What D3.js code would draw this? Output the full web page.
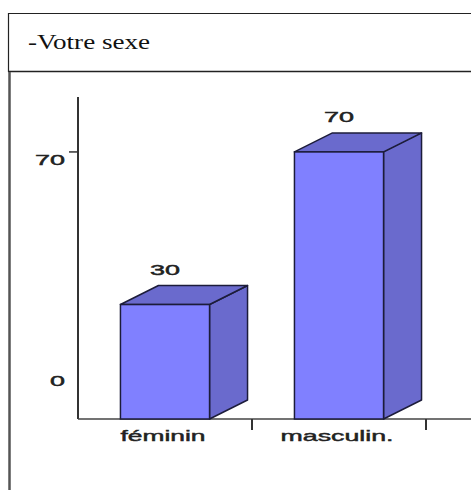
<!DOCTYPE html>
<html>
<head>
<meta charset="utf-8">
<script src="https://cdn.jsdelivr.net/npm/d3@7"></script>
<style>
  html, body { margin: 0; padding: 0; background: #fff; }
  svg { display: block; }
  .lbl { font-family: 'Liberation Sans', Arial, sans-serif; fill: #222; stroke: #222; stroke-width: 0.45px; }
</style>
</head>
<body>
<svg id="chart" width="471" height="490"></svg>
<script>
// Répartition des répondants selon le sexe
const categories = ["féminin", "masculin."];
const values = [30, 70];
const tickValues = [0, 70];
const title = "-Votre sexe";

const svg = d3.select("#chart");
const W = 471, H = 490;

// Cadre du tableau
const frame = svg.append("g");
frame.append("line").attr("x1", 8).attr("x2", W).attr("y1", 13.5).attr("y2", 13.5)
  .attr("stroke", "#222").attr("stroke-width", 1.2);
frame.append("line").attr("x1", 8.5).attr("x2", 8.5).attr("y1", 13).attr("y2", 72)
  .attr("stroke", "#222").attr("stroke-width", 1.2);
frame.append("line").attr("x1", 8).attr("x2", W).attr("y1", 71.5).attr("y2", 71.5)
  .attr("stroke", "#222").attr("stroke-width", 1.6);
frame.append("line").attr("x1", 9.5).attr("x2", 9.5).attr("y1", 72).attr("y2", H)
  .attr("stroke", "#555").attr("stroke-width", 2.5);

frame.append("text")
  .attr("x", 28).attr("y", 49)
  .attr("font-family", "'Liberation Serif', 'Times New Roman', serif")
  .attr("font-size", 21)
  .attr("fill", "#111")
  .attr("textLength", 122)
  .attr("lengthAdjust", "spacingAndGlyphs")
  .text(title);

// Échelles
const x = d3.scaleBand().domain(categories).range([78, 426]).padding(0);
const y = d3.scaleLinear().domain([0, 84.4]).range([419, 97]);
// étiquettes de graduation placées sur le plan arrière
const tickLabelY = d3.scaleLinear().domain([0, 70]).range([386, 165]);

const depth = { dx: 38, dy: -19 };
const barW = x.bandwidth() * 0.512;
const front = "#8080ff", side = "#6a6acd", edge = "#1c1c3a";

const chart = svg.append("g");

// Axe vertical
chart.append("line")
  .attr("x1", 78).attr("x2", 78).attr("y1", y.range()[1]).attr("y2", y(0))
  .attr("stroke", "#333").attr("stroke-width", 2);
chart.selectAll(".ytick").data(tickValues.filter(v => v > 0)).join("line")
  .attr("x1", 69).attr("x2", 78).attr("y1", d => y(d)).attr("y2", d => y(d))
  .attr("stroke", "#333").attr("stroke-width", 1.5);
chart.selectAll(".ylabel").data(tickValues).join("text")
  .attr("class", "lbl")
  .attr("x", 65).attr("y", d => tickLabelY(d))
  .attr("text-anchor", "end")
  .attr("font-size", 14)
  .attr("textLength", d => String(d).length * 15)
  .attr("lengthAdjust", "spacingAndGlyphs")
  .text(d => d);

// Axe horizontal
chart.append("line")
  .attr("x1", 78).attr("x2", W).attr("y1", y(0)).attr("y2", y(0))
  .attr("stroke", "#444").attr("stroke-width", 1.6);
chart.selectAll(".xtick").data(categories).join("line")
  .attr("x1", d => x(d) + x.bandwidth()).attr("x2", d => x(d) + x.bandwidth())
  .attr("y1", y(0)).attr("y2", y(0) + 11)
  .attr("stroke", "#333").attr("stroke-width", 2);
const labelWidths = { "féminin": 85, "masculin.": 113 };
chart.selectAll(".xlabel").data(categories).join("text")
  .attr("class", "lbl")
  .attr("x", d => x(d) + x.bandwidth() / 2 - 2)
  .attr("y", 441)
  .attr("text-anchor", "middle")
  .attr("font-size", 15)
  .attr("textLength", d => labelWidths[d])
  .attr("lengthAdjust", "spacingAndGlyphs")
  .text(d => d);

// Barres 3D
const bars = chart.selectAll(".bar").data(categories.map((c, i) => ({ c, v: values[i] })))
  .join("g");

bars.each(function (d) {
  const g = d3.select(this);
  const x0 = x(d.c) + (x.bandwidth() - barW) / 2;
  const x1 = x0 + barW;
  const yt = y(d.v), yb = y(0);
  const { dx, dy } = depth;
  // face latérale
  g.append("path")
    .attr("d", `M${x1},${yt}L${x1 + dx},${yt + dy}L${x1 + dx},${yb + dy}L${x1},${yb}Z`)
    .attr("fill", side).attr("stroke", edge).attr("stroke-width", 1.5).attr("stroke-linejoin", "round");
  // face supérieure
  g.append("path")
    .attr("d", `M${x0},${yt}L${x0 + dx},${yt + dy}L${x1 + dx},${yt + dy}L${x1},${yt}Z`)
    .attr("fill", side).attr("stroke", edge).attr("stroke-width", 1.5).attr("stroke-linejoin", "round");
  // face avant
  g.append("rect")
    .attr("x", x0).attr("y", yt).attr("width", barW).attr("height", yb - yt)
    .attr("fill", front).attr("stroke", edge).attr("stroke-width", 1.5);
  // valeur
  g.append("text")
    .attr("class", "lbl")
    .attr("x", (x0 + x1) / 2)
    .attr("y", yt + dy - 11)
    .attr("text-anchor", "middle")
    .attr("font-size", 14)
    .attr("textLength", 30)
    .attr("lengthAdjust", "spacingAndGlyphs")
    .text(d.v);
});
</script>
</body>
</html>
